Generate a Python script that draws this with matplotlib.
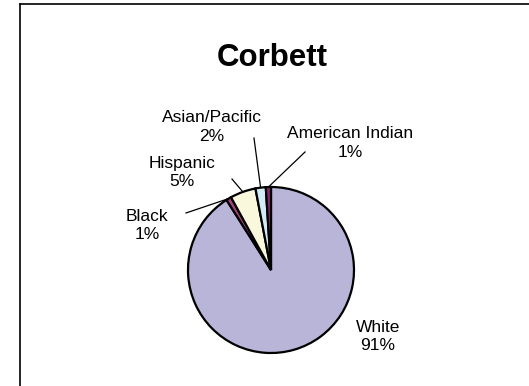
import matplotlib
matplotlib.use("Agg")
import matplotlib.pyplot as plt
from matplotlib.lines import Line2D
import numpy as np

categories = ["White", "Black", "Hispanic", "Asian/Pacific", "American Indian"]
values = [91, 1, 5, 2, 1]
colors = ["#B9B5D8", "#A34481", "#FAF8DC", "#D3EBF7", "#86256F"]
title = "Corbett"

W, H = 529, 386
fig = plt.figure(figsize=(W / 100, H / 100), dpi=100)
fig.patch.set_facecolor("white")

cx, cy, r = 271, 270, 83
ax = fig.add_axes([(cx - r) / W, (H - (cy + r)) / H, 2 * r / W, 2 * r / H])
wedges, _ = ax.pie(values, colors=colors, startangle=90, counterclock=False,
                   wedgeprops=dict(edgecolor="black", linewidth=1.6))
ax.set_xlim(-1, 1)
ax.set_ylim(-1, 1)
ax.set_aspect("equal")
ax.axis("off")

font = "Liberation Sans"
total = sum(values)
# label text centres and leader start points (data units, radius = 1)
label_pos = {
    "White": (1.289, -0.801),
    "Black": (-1.494, 0.536),
    "Hispanic": (-1.072, 1.175),
    "Asian/Pacific": (-0.711, 1.723),
    "American Indian": (0.952, 1.530),
}
leader_start = {
    "Black": (-1.024, 0.687),
    "Hispanic": (-0.470, 1.096),
    "Asian/Pacific": (-0.205, 1.590),
    "American Indian": (0.410, 1.422),
}
for w, cat, v in zip(wedges, categories, values):
    tx, ty = label_pos[cat]
    ax.text(tx, ty, f"{cat}\n{round(100 * v / total)}%", ha="center", va="center",
            fontsize=12.5, family=font, linespacing=1.28, clip_on=False)
    if cat in leader_start:
        mid = np.deg2rad((w.theta1 + w.theta2) / 2)
        ex, ey = np.cos(mid), np.sin(mid)
        sx, sy = leader_start[cat]
        ax.plot([sx, ex], [sy, ey], color="black", linewidth=0.9, clip_on=False)

fig.text(272 / W, 1 - 58 / H, title, ha="center", va="center", fontsize=22.5,
         fontweight="bold", family=font)

# frame lines (top and left)
fig.add_artist(Line2D([20 / W, 1], [1 - 4 / H, 1 - 4 / H], color="black", linewidth=1.2))
fig.add_artist(Line2D([20 / W, 20 / W], [0, 1 - 4 / H], color="black", linewidth=1.2))

fig.savefig("out.png", dpi=100, facecolor="white")
